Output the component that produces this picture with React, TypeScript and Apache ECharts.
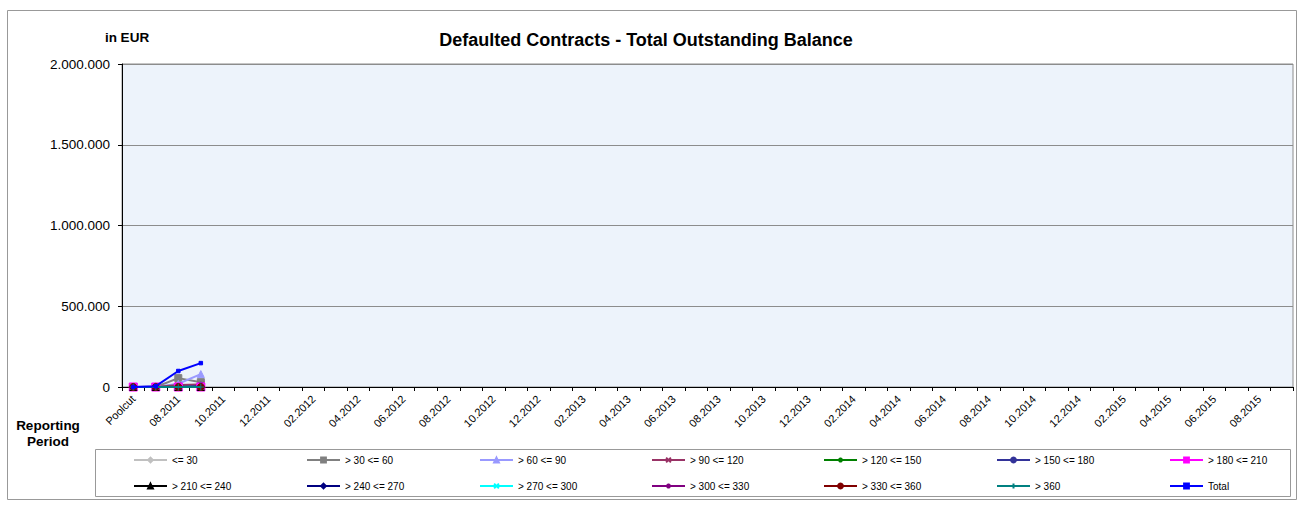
import React, { useEffect, useRef } from "react";
import * as echarts from "echarts";

const categories = [
  "Poolcut",
  "07.2011", "08.2011", "09.2011", "10.2011", "11.2011", "12.2011",
  "01.2012", "02.2012", "03.2012", "04.2012", "05.2012", "06.2012",
  "07.2012", "08.2012", "09.2012", "10.2012", "11.2012", "12.2012",
  "01.2013", "02.2013", "03.2013", "04.2013", "05.2013", "06.2013",
  "07.2013", "08.2013", "09.2013", "10.2013", "11.2013", "12.2013",
  "01.2014", "02.2014", "03.2014", "04.2014", "05.2014", "06.2014",
  "07.2014", "08.2014", "09.2014", "10.2014", "11.2014", "12.2014",
  "01.2015", "02.2015", "03.2015", "04.2015", "05.2015", "06.2015",
  "07.2015", "08.2015", "09.2015",
];

const seriesNames = [
  "<= 30", "> 30 <= 60", "> 60 <= 90", "> 90 <= 120", "> 120 <= 150",
  "> 150 <= 180", "> 180 <= 210", "> 210 <= 240", "> 240 <= 270",
  "> 270 <= 300", "> 300 <= 330", "> 330 <= 360", "> 360", "Total",
];

const b0_30 = [0, 5000, 10000, 15000];
const b30_60 = [0, 0, 55000, 30000];
const b60_90 = [0, 0, 20000, 80000];
const b90_120 = [0, 0, 12000, 15000];
const b120_150 = [0, 0, 2000, 0];
const b150_180 = [0, 0, 0, 8000];
const b180_210 = [0, 0, 0, 0];
const b210_240 = [0, 0, 0, 0];
const b240_270 = [0, 0, 0, 0];
const b270_300 = [0, 0, 0, 0];
const b300_330 = [0, 0, 0, 0];
const b330_360 = [0, 0, 0, 0];
const b360 = [0, 0, 0, 0];
const total = [0, 5000, 99000, 148000];

const seriesValues = [
  b0_30, b30_60, b60_90, b90_120, b120_150, b150_180, b180_210,
  b210_240, b240_270, b270_300, b300_330, b330_360, b360, total,
];

const X_PATH = "path://M0,0L10,10M10,0L0,10";
const STAR_PATH = "path://M5,0L5,10M0,5L10,5M1.5,1.5L8.5,8.5M8.5,1.5L1.5,8.5";
const PLUS_PATH = "path://M5,0L5,10M0,5L10,5";

const styles = [
  { color: "#C0C0C0", symbol: "diamond", size: 7 },
  { color: "#808080", symbol: "rect", size: 7 },
  { color: "#9999FF", symbol: "triangle", size: 7 },
  { color: "#993366", symbol: X_PATH, size: 6 },
  { color: "#008000", symbol: STAR_PATH, size: 6 },
  { color: "#333399", symbol: "circle", size: 7 },
  { color: "#FF00FF", symbol: "rect", size: 8 },
  { color: "#000000", symbol: "triangle", size: 7 },
  { color: "#000080", symbol: "diamond", size: 7 },
  { color: "#00FFFF", symbol: X_PATH, size: 6 },
  { color: "#800080", symbol: STAR_PATH, size: 6 },
  { color: "#800000", symbol: "circle", size: 7 },
  { color: "#008080", symbol: PLUS_PATH, size: 7 },
  { color: "#0000FF", symbol: "rect", size: 3.5 },
];

const FONT = "Arial, 'Liberation Sans', sans-serif";

function fmt(v: number): string {
  return String(Math.round(v)).replace(/\B(?=(\d{3})+(?!\d))/g, ".");
}

export default function App() {
  const ref = useRef<HTMLDivElement>(null);
  useEffect(() => {
    if (!ref.current) return;
    const chart = echarts.init(ref.current, undefined, { renderer: "svg" });
    const colX = [133, 306, 479, 651, 823, 996, 1169];
    const legends = seriesNames.map((name, i) => ({
      data: [name],
      left: colX[i % 7],
      top: i < 7 ? 455 : 481,
      padding: 0,
      itemWidth: 33,
      itemHeight: 6,
      itemGap: 4,
      selectedMode: false,
      textStyle: { fontSize: 10, fontFamily: FONT, color: "#000" },
    }));
    chart.setOption({
      animation: false,
      textStyle: { fontFamily: FONT },
      title: {
        text: "Defaulted Contracts - Total Outstanding Balance",
        left: 646,
        textAlign: "center",
        top: 31,
        padding: 0,
        textStyle: { fontSize: 18, fontWeight: "bold", color: "#000", fontFamily: FONT },
      },
      legend: legends,
      grid: {
        left: 122,
        top: 64,
        width: 1171,
        height: 323,
        show: true,
        backgroundColor: "#EDF3FB",
        borderColor: "#8C8C8C",
        borderWidth: 1,
      },
      xAxis: {
        type: "category",
        data: categories,
        boundaryGap: true,
        axisLine: { lineStyle: { color: "#000", width: 1 } },
        axisTick: { show: true, interval: 0, length: 4, lineStyle: { color: "#000" } },
        axisLabel: {
          interval: 1,
          rotate: 45,
          fontSize: 11,
          color: "#000",
          margin: 10,
          fontFamily: FONT,
        },
        splitLine: { show: false },
      },
      yAxis: {
        type: "value",
        min: 0,
        max: 2000000,
        interval: 500000,
        axisLine: { show: true, lineStyle: { color: "#000", width: 1 } },
        axisTick: { show: true, length: 4, lineStyle: { color: "#000" } },
        axisLabel: {
          fontSize: 13.5,
          color: "#000",
          margin: 12,
          fontFamily: FONT,
          formatter: (v: number) => fmt(v),
        },
        splitLine: { show: true, lineStyle: { color: "#8C8C8C", width: 1 } },
      },
      graphic: [
        {
          type: "rect",
          shape: { x: 7.5, y: 10.5, width: 1289, height: 489 },
          style: { fill: "none", stroke: "#999", lineWidth: 1 },
          silent: true,
          z: -1,
        },
        {
          type: "rect",
          shape: { x: 95.5, y: 449.5, width: 1195, height: 47 },
          style: { fill: "none", stroke: "#999", lineWidth: 1 },
          silent: true,
          z: -1,
        },
        {
          type: "text",
          x: 127,
          y: 37,
          style: {
            text: "in EUR",
            fill: "#000",
            font: "bold 13.5px Arial, 'Liberation Sans', sans-serif",
            textAlign: "center",
            textVerticalAlign: "middle",
          },
        },
        {
          type: "text",
          x: 48,
          y: 433,
          style: {
            text: "Reporting\nPeriod",
            font: "bold 13.5px Arial, 'Liberation Sans', sans-serif",
            fill: "#000",
            textAlign: "center",
            textVerticalAlign: "middle",
            lineHeight: 16,
          },
        },
      ],
      series: seriesNames.map((name, i) => ({
        name,
        type: "line",
        data: seriesValues[i],
        symbol: styles[i].symbol,
        symbolSize: styles[i].size,
        showSymbol: true,
        lineStyle: { color: styles[i].color, width: 2 },
        itemStyle: {
          color: styles[i].color,
          borderColor: styles[i].color,
          borderWidth: 1,
        },
        z: 2 + i,
      })),
    });
    return () => chart.dispose();
  }, []);
  return (
    <div
      ref={ref}
      style={{ position: "fixed", left: 0, top: 0, width: 1298, height: 506, background: "#fff" }}
    />
  );
}
